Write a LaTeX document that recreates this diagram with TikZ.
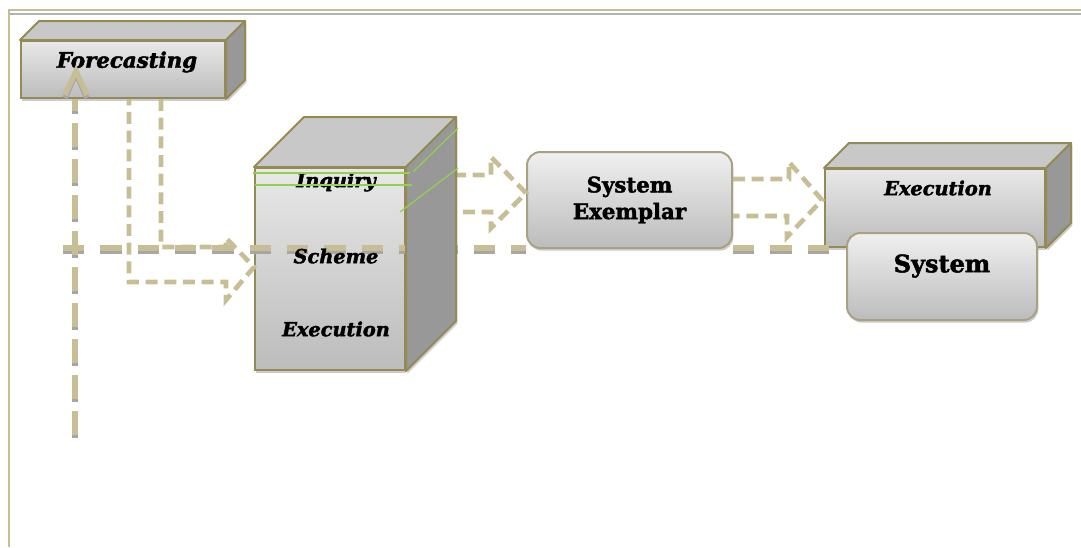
\documentclass[tikz,border=0pt]{standalone}
\usepackage{fontspec}
\setmainfont{DejaVu Serif}[BoldFeatures={FakeBold=2}, BoldItalicFeatures={FakeBold=2}]
\usetikzlibrary{shadows}

\definecolor{dashtan}{RGB}{200,190,150}
\definecolor{boxline}{RGB}{148,138,84}
\definecolor{topgray}{RGB}{200,200,200}
\definecolor{sidegray}{RGB}{152,152,152}
\definecolor{facelight}{RGB}{232,232,232}
\definecolor{facedark}{RGB}{188,188,188}
\definecolor{guide}{RGB}{146,208,80}

% top and right faces of a box, #1 = front node, #2 = depth
\newcommand{\boxsides}[2]{%
  \draw[fill=topgray, draw=boxline, line width=1.5pt, line join=round]
    (#1.north west) -- ([shift={(#2,-#2)}]#1.north west) -- ([shift={(#2,-#2)}]#1.north east) -- (#1.north east) -- cycle;
  \draw[fill=sidegray, draw=boxline, line width=1.5pt, line join=round, boxshadow]
    (#1.north east) -- ([shift={(#2,-#2)}]#1.north east) -- ([shift={(#2,-#2)}]#1.south east) -- (#1.south east) -- cycle;}

\tikzset{
  boxshadow/.style={drop shadow={shadow xshift=1pt, shadow yshift=-2pt, fill=black!40}},
  face/.style={draw=boxline, line width=1.5pt, top color=facelight, bottom color=facedark, boxshadow, inner sep=0pt},
  rbox/.style={draw=dashtan!85!black, line width=1.5pt, rounded corners=10pt, top color=black!6, bottom color=facedark, boxshadow, align=center, inner sep=0pt},
  lbl/.style={font=\fontsize{14.5}{17}\selectfont\bfseries\itshape},
  hline/.style={draw=dashtan, line width=4.5pt, dash pattern=on 16pt off 12pt},
  vline/.style={draw=dashtan, line width=4pt, dash pattern=on 18pt off 9pt},
  blockarr/.style={draw=dashtan, line width=3.5pt, dash pattern=on 9pt off 5pt},
  shade/.style={draw=black!35, transform canvas={yshift=-2.25pt}},
  guide line/.style={draw=guide, line width=0.9pt}
}

\begin{document}
\begin{tikzpicture}[x=0.75pt, y=-0.75pt]
    \useasboundingbox (0,0) rectangle (1081,547);

    % frame
    \draw[dashtan, line width=1.8pt] (8,10) -- (1081,10);
    \draw[black!30, line width=1.8pt] (8,14) -- (1081,14);
    \draw[dashtan, line width=1.8pt] (9,10) -- (9,547);

    \coordinate (hs) at (63,248);
    \coordinate (vb) at (75,435);
    \coordinate (vtip) at (76,71);

    % boxes
    \node[face, minimum width=153pt, minimum height=42.75pt] (fc) at (123,69.5) {};
    \node[face, minimum width=112.5pt, minimum height=151.5pt] (fb) at (330,269) {};
    \node[rbox, minimum width=153.75pt, minimum height=72pt,
          font=\fontsize{16}{20}\selectfont\bfseries] (sx) at (629.5,200) {System\\Exemplar};
    \node[face, minimum width=165pt, minimum height=58.5pt] (ex) at (935,208) {};

    % dashed lines behind the boxes
    \draw[hline, shade] (hs) -- (hs -| sx.west);
    \draw[hline] (hs) -- (hs -| sx.west);
    \draw[vline, shade] (vb) -- (vb |- fc.south);
    \draw[vline] (vb) -- (vb |- fc.south);

    \draw[blockarr] ([shift={(141,0)}]fc.south west) |- ([shift={(-28,-22)}]fb.west) -- ++(0,-9)
        -- ([shift={(0,-2)}]fb.west) -- ([shift={(-28,31)}]fb.west) -- ++(0,-18) -| ([shift={(109,0)}]fc.south west);
    \draw[blockarr] ([shift={(-72,-25)}]sx.west) -- ++(37,0) -- ++(0,-18) -- ([shift={(0,-7)}]sx.west)
        -- ([shift={(-35,28)}]sx.west) -- ++(0,-16) -- ++(-37,0);
    \draw[blockarr] ([shift={(0,-21)}]sx.east) -- ++(56,0) -- ++(0,-17) -- ([shift={(-2,-8)}]ex.west)
        -- ([shift={(-37,29)}]ex.west) -- ++(0,-21) -- ([shift={(0,16)}]sx.east);
    \draw[hline, shade] (sx.south east |- hs) -- ++(110,0);
    \draw[hline] (sx.south east |- hs) -- ++(110,0);

    \boxsides{fc}{19}
    \boxsides{fb}{50}
    \boxsides{ex}{25}
    \node[rbox, minimum width=142.5pt, minimum height=65.25pt] (sy) at (942,276.5) {};

    % texts
    \node[lbl, font=\fontsize{16}{18}\selectfont\bfseries\itshape] (fct) at (127,62) {Forecasting};
    \node[lbl] (inq) at (336,182) {Inquiry};
    \node[lbl] (sch) at (336,256) {Scheme};
    \node[lbl] (exe) at (336,329) {Execution};
    \node[lbl] (ext) at (938,188) {Execution};
    \node[font=\fontsize{18}{20}\selectfont\bfseries] (syt) at (942,266) {System};

    % arrow head into Forecasting
    \draw[black!35, line width=4pt, transform canvas={yshift=-2.25pt}] ([shift={(-11,24)}]vtip) -- (vtip) -- ([shift={(11,24)}]vtip);
    \draw[dashtan, line width=4pt] ([shift={(-11,24)}]vtip) -- (vtip) -- ([shift={(11,24)}]vtip);

    % green guide lines
    \draw[guide line] (253,173) -- (410,173);
    \draw[guide line] (255,185) -- (412,185);
    \draw[guide line] (413,172) -- (458,128);
    \draw[guide line] (400,212) -- (458,168);
\end{tikzpicture}
\end{document}
